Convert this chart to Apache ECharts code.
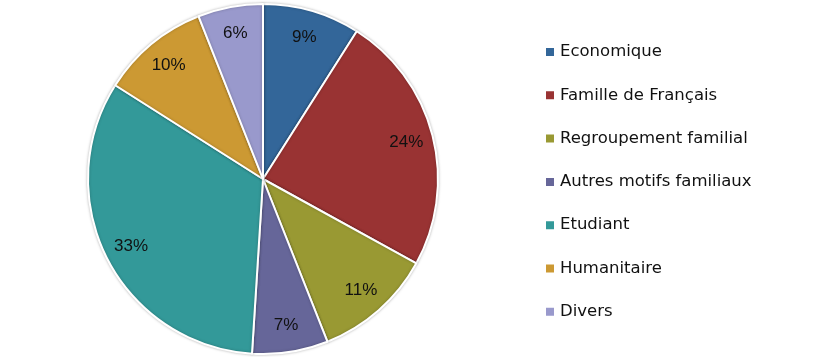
<!DOCTYPE html>
<html><head><meta charset="utf-8">
<script src="https://cdn.jsdelivr.net/npm/echarts@6/dist/echarts.min.js"></script>
<style>html,body{margin:0;padding:0;background:#fff}#c{width:814px;height:357px}</style>
</head><body><div id="c"></div>
<script>
const categories = ['Economique','Famille de Français','Regroupement familial','Autres motifs familiaux','Etudiant','Humanitaire','Divers'];
const values = [9, 24, 11, 7, 33, 10, 6];
const colors = ['#336699','#993333','#999933','#666699','#339999','#CC9933','#9999CC'];

const data = categories.map((n, i) => ({ name: n, value: values[i] }));
const chart = echarts.init(document.getElementById('c'));
chart.setOption({
  animation: false,
  color: colors,
  legend: {
    orient: 'vertical', left: 539, top: 37,
    itemWidth: 10, itemHeight: 10, itemGap: 23.3,
    icon: 'rect',
    data: categories,
    textStyle: { fontFamily: 'DejaVu Sans', fontSize: 16.5, color: '#111', lineHeight: 20 }
  },
  series: [{
    type: 'pie', center: [263, 179], radius: 175, startAngle: 90, clockwise: true,
    data: data,
    itemStyle: { borderColor: '#fff', borderWidth: 2, shadowColor: 'rgba(0,0,0,0.25)', shadowBlur: 3 },
    label: { show: false }, labelLine: { show: false }, emphasis: { disabled: true }
  }, {
    type: 'pie', center: [263, 179], radius: [115, 175], startAngle: 90, clockwise: true, silent: true,
    data: data,
    itemStyle: { color: 'rgba(0,0,0,0)', borderWidth: 0 },
    label: { show: true, position: 'inside', formatter: p => p.value + '%', fontFamily: 'Liberation Sans', fontSize: 17, color: '#111' },
    labelLine: { show: false }, emphasis: { disabled: true }
  }]
});
</script></body></html>
